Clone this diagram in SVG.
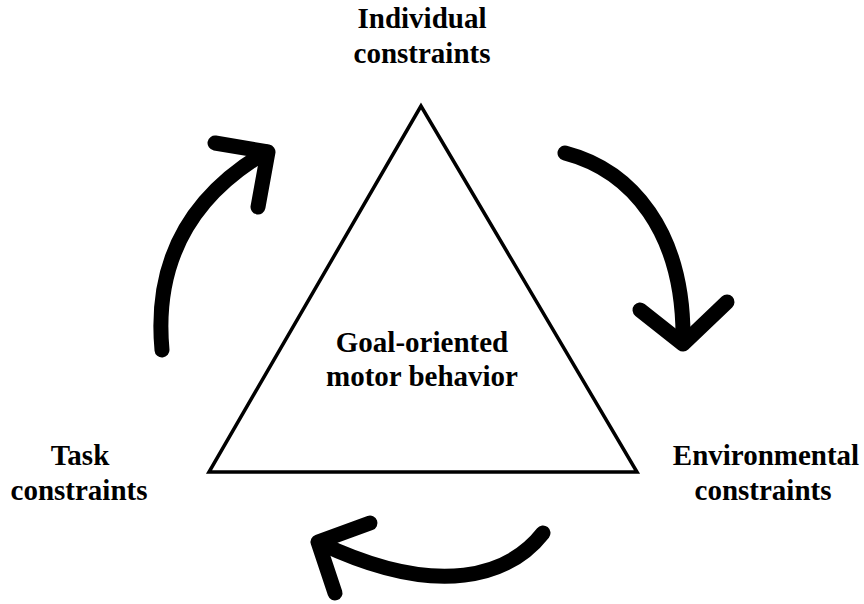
<svg xmlns="http://www.w3.org/2000/svg" width="864" height="604" viewBox="0 0 864 604">
  <style>
    .label { font-family: "Liberation Serif", "Times New Roman", serif; font-weight: bold; font-size: 29px; fill: #000; text-anchor: middle; }
    .cycle { fill: none; stroke: #000; stroke-width: 15; stroke-linecap: round; stroke-linejoin: round; }
  </style>
  <rect width="864" height="604" fill="#fff"/>

  <!-- central triangle with its label -->
  <g id="center">
    <polygon points="421,106 209,472 637,472" fill="#fff" stroke="#000" stroke-width="3.5" stroke-linejoin="miter"/>
    <text class="label" x="422" y="352">Goal-oriented</text>
    <text class="label" x="422" y="386">motor behavior</text>
  </g>

  <g id="individual">
    <text class="label" x="422" y="28">Individual</text>
    <text class="label" x="422" y="63">constraints</text>
  </g>

  <g id="task">
    <text class="label" x="80" y="465">Task</text>
    <text class="label" x="79" y="500">constraints</text>
  </g>

  <g id="environmental">
    <text class="label" x="766" y="465">Environmental</text>
    <text class="label" x="763" y="500">constraints</text>
  </g>

  <!-- curved cycle arrows -->
  <g id="connectors">
    <path class="cycle" d="M162,350 Q150,220 266,152"/>
    <path class="cycle" d="M215,143 L268,152 L258,207"/>

    <path class="cycle" d="M565,153 C630,170 685,230 683,343"/>
    <path class="cycle" d="M640,310 L683,344 L727,302"/>

    <path class="cycle" d="M543,533 C510,575 440,600 320,543"/>
    <path class="cycle" d="M370,523 L318,542 L335,593"/>
  </g>
</svg>
